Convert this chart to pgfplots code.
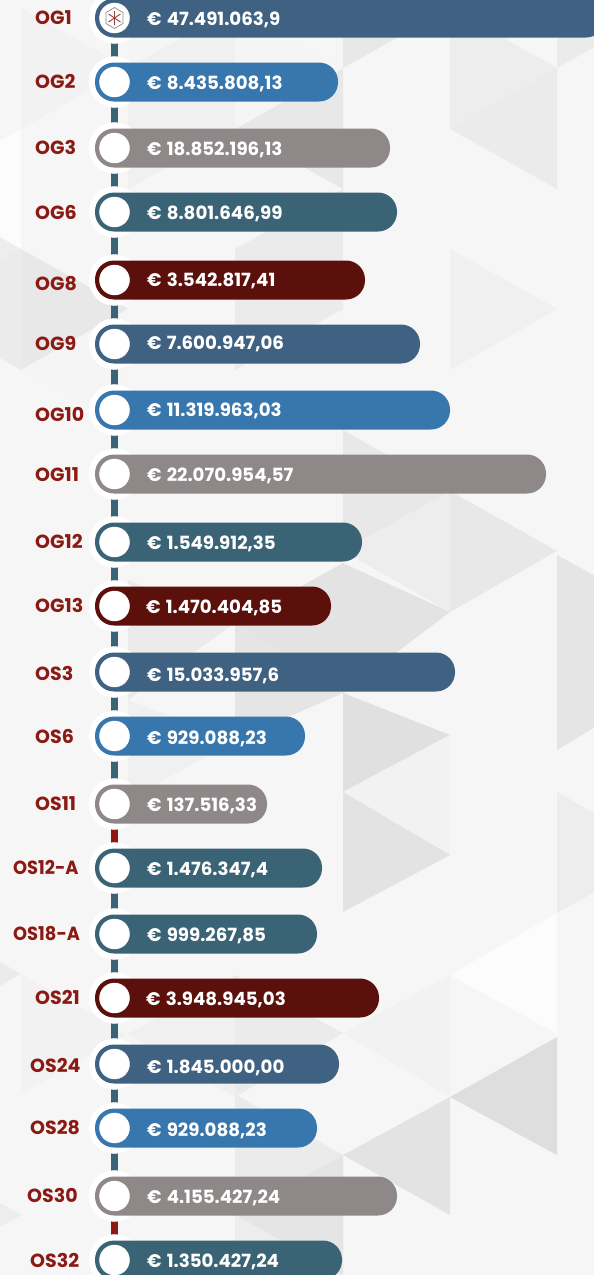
\documentclass[border=0pt]{standalone}
\usepackage{pgfplots}
\pgfplotsset{compat=1.18}
\usepackage{pgfplotstable}
\usepackage{fontspec}
\setmainfont{Poppins}[BoldFont={Poppins Bold}]
\definecolor{cslate}{HTML}{3F6282}
\definecolor{cblue}{HTML}{3877AE}
\definecolor{cgrey}{HTML}{8E8888}
\definecolor{cteal}{HTML}{3A6475}
\definecolor{cred}{HTML}{5C100B}
\definecolor{clab}{HTML}{8B1A14}
\definecolor{cbg}{HTML}{F6F6F6}
% y = row centre in px from the top; x = bar length in px
\pgfplotstableread[col sep=semicolon]{
y;len
18;510
344;325
672;360
1064;244
}\tslate
\pgfplotstableread[col sep=semicolon]{
y;len
82;243
410;355
736;210
1128;222
}\tblue
\pgfplotstableread[col sep=semicolon]{
y;len
148;295
474;451
804;172
1196;302
}\tgrey
\pgfplotstableread[col sep=semicolon]{
y;len
212;302
542;267
868;227
934;222
1260;247
}\tteal
\pgfplotstableread[col sep=semicolon]{
y;len
280;270
606;236
998;284
}\tred
\newcommand{\E}{€\hspace{0.28em}}
\pgfplotstableread[col sep=semicolon]{
x;y;label
52;25.5;{\E 47.491.063,9}
52;89;{\E 8.435.808,13}
52;155;{\E 18.852.196,13}
52;219.5;{\E 8.801.646,99}
52;286;{\E 3.542.817,41}
52;349.5;{\E 7.600.947,06}
52;416;{\E 11.319.963,03}
52;481;{\E 22.070.954,57}
52;549;{\E 1.549.912,35}
51;613;{\E 1.470.404,85}
52;681;{\E 15.033.957,6}
52;744;{\E 929.088,23}
52;811;{\E 137.516,33}
52;875;{\E 1.476.347,4}
52;941;{\E 999.267,85}
51;1005;{\E 3.948.945,03}
52;1073;{\E 1.845.000,00}
52;1136;{\E 929.088,23}
52;1203;{\E 4.155.427,24}
52;1267;{\E 1.350.427,24}
}\tvalues
\pgfplotstableread[col sep=semicolon]{
x;y;label
-60;24.5;{OG1}
-60;88.5;{OG2}
-60;154.5;{OG3}
-60;219.5;{OG6}
-60;290.5;{OG8}
-60;350.5;{OG9}
-60;421.5;{OG10}
-60;481.5;{OG11}
-60;548.5;{OG12}
-60;612.5;{OG13}
-60;680.5;{OS3}
-60;743.5;{OS6}
-60;810.5;{OS11}
-82;874.5;{\scalebox{0.94}[1]{OS12-A}}
-82;940.5;{\scalebox{0.94}[1]{OS18-A}}
-60;1004.5;{OS21}
-65;1072.5;{OS24}
-65;1134.5;{OS28}
-68;1202.5;{OS30}
-65;1267.5;{OS32}
}\tcodes
\newcommand{\T}[7]{\fill[black!#7] (axis cs:#1-95,#2) -- (axis cs:#3-95,#4) -- (axis cs:#5-95,#6) -- cycle;}
\pgfplotsset{rowbar/.style={xbar,bar shift=0pt,bar width=39pt,draw=none,fill=#1,rounded corners=19pt}}
\begin{document}
\begin{tikzpicture}
\path[use as bounding box] (0,0) rectangle (594pt,1275pt);
\begin{axis}[
  at={(0,0)},anchor=south west,
  scale only axis,width=594pt,height=1275pt,
  xmin=-95,xmax=499,ymin=0,ymax=1275,y dir=reverse,
  axis lines=none,clip=true,clip marker paths=true,
]
% background
\fill[cbg] (axis cs:-95,0) rectangle (axis cs:499,1275);
\T{21}{8}{21}{129}{128}{68}{5}
\T{128}{-53}{128}{68}{235}{8}{4}
\T{128}{68}{235}{8}{235}{129}{6}
\T{128}{68}{128}{189}{235}{129}{6}
\T{235}{129}{343}{68}{343}{189}{9}
\T{235}{8}{343}{68}{235}{129}{4}
\T{343}{-53}{343}{68}{450}{8}{9}
\T{450}{8}{450}{129}{557}{68}{7}
\T{450}{129}{557}{68}{557}{189}{8}
\T{557}{-53}{557}{68}{664}{8}{8}
\T{21}{129}{21}{249}{-86}{189}{1}
\T{235}{249}{343}{189}{343}{309}{8}
\T{235}{249}{343}{309}{235}{370}{8}
\T{21}{249}{128}{309}{21}{370}{9}
\T{21}{249}{-86}{189}{-86}{309}{7}
\T{21}{370}{-86}{309}{21}{249}{8}
\T{128}{430}{21}{370}{128}{309}{4}
\T{450}{249}{557}{309}{450}{370}{6}
\T{343}{430}{450}{491}{343}{551}{9}
\T{450}{491}{557}{551}{450}{612}{9}
\T{343}{551}{450}{491}{450}{612}{7}
\T{343}{563}{450}{612}{343}{693}{11}
\T{343}{693}{450}{735}{343}{792}{12}
\T{235}{623}{343}{563}{343}{693}{11}
\T{235}{623}{343}{693}{235}{740}{10}
\T{128}{580}{235}{623}{128}{700}{8}
\T{128}{700}{235}{740}{128}{800}{6}
\T{557}{555}{640}{600}{640}{700}{10}
\T{557}{555}{557}{750}{640}{700}{10}
\T{557}{792}{557}{913}{664}{853}{7}
\T{343}{792}{450}{735}{450}{855}{5}
\T{343}{792}{450}{855}{343}{912}{11}
\T{450}{975}{557}{913}{557}{1034}{1}
\T{450}{1097}{557}{1037}{557}{1155}{13}
\T{343}{1033}{450}{975}{450}{1097}{5}
\T{450}{1097}{343}{1155}{450}{1215}{11}
\T{343}{1155}{235}{1094}{235}{1215}{8}
\T{235}{1215}{343}{1155}{343}{1275}{10}
\T{235}{1215}{343}{1275}{235}{1340}{7}
\T{235}{975}{343}{1033}{235}{1097}{8}
\T{128}{1034}{235}{975}{235}{1097}{6}
\T{21}{974}{-86}{913}{-86}{1034}{8}
\T{21}{974}{128}{1034}{21}{1094}{5}
\T{21}{1215}{-86}{1154}{-86}{1275}{7}
% connector
\addplot[no marks,cteal,line width=7pt] coordinates {(19.5,18) (19.5,804)};
\addplot[no marks,clab,line width=7pt] coordinates {(19.5,804) (19.5,868)};
\addplot[no marks,cteal,line width=7pt] coordinates {(19.5,868) (19.5,1196)};
\addplot[no marks,clab,line width=7pt] coordinates {(19.5,1196) (19.5,1260)};
% halos
\addplot[only marks,mark=*,mark size=25.5pt,white,mark options={draw=none,fill=white}] coordinates {
(19.5,18)(19.5,82)(19.5,148)(19.5,212)(19.5,280)(19.5,344)(19.5,410)(19.5,474)(19.5,542)(19.5,606)(19.5,672)(19.5,736)(19.5,804)(19.5,868)(19.5,934)(19.5,998)(19.5,1064)(19.5,1128)(19.5,1196)(19.5,1260)};
% bars
\addplot[rowbar=cslate] table[x=len,y=y] {\tslate};
\addplot[rowbar=cblue] table[x=len,y=y] {\tblue};
\addplot[rowbar=cgrey] table[x=len,y=y] {\tgrey};
\addplot[rowbar=cteal] table[x=len,y=y] {\tteal};
\addplot[rowbar=cred] table[x=len,y=y] {\tred};
% inner circles
\addplot[only marks,mark=*,mark size=15pt,white,mark options={draw=none,fill=white}] coordinates {
(19.5,18)(19.5,82)(19.5,148)(19.5,212)(19.5,280)(19.5,344)(19.5,410)(19.5,474)(19.5,542)(19.5,606)(19.5,672)(19.5,736)(19.5,804)(19.5,868)(19.5,934)(19.5,998)(19.5,1064)(19.5,1128)(19.5,1196)(19.5,1260)};
% icon
\draw[cgrey,line width=0.7pt] (axis cs:19.5,7.5) -- (axis cs:28,12.5) -- (axis cs:28,23.5) -- (axis cs:19.5,28.5) -- (axis cs:11,23.5) -- (axis cs:11,12.5) -- cycle;
\draw[clab!85,line width=0.9pt] (axis cs:19.5,11) -- (axis cs:19.5,25) (axis cs:13.5,14) -- (axis cs:25.5,22) (axis cs:25.5,14) -- (axis cs:13.5,22);
% labels
\addplot[only marks,mark=none,nodes near coords,point meta=explicit symbolic,
  nodes near coords style={anchor=base west,inner sep=0pt,text=white,font=\fontsize{18.2}{20}\selectfont\bfseries}]
  table[x=x,y=y,meta=label] {\tvalues};
\addplot[only marks,mark=none,nodes near coords,point meta=explicit symbolic,
  nodes near coords style={anchor=base west,inner sep=0pt,text=clab,font=\fontsize{19}{20}\selectfont\bfseries}]
  table[x=x,y=y,meta=label] {\tcodes};
\end{axis}
\end{tikzpicture}
\end{document}
